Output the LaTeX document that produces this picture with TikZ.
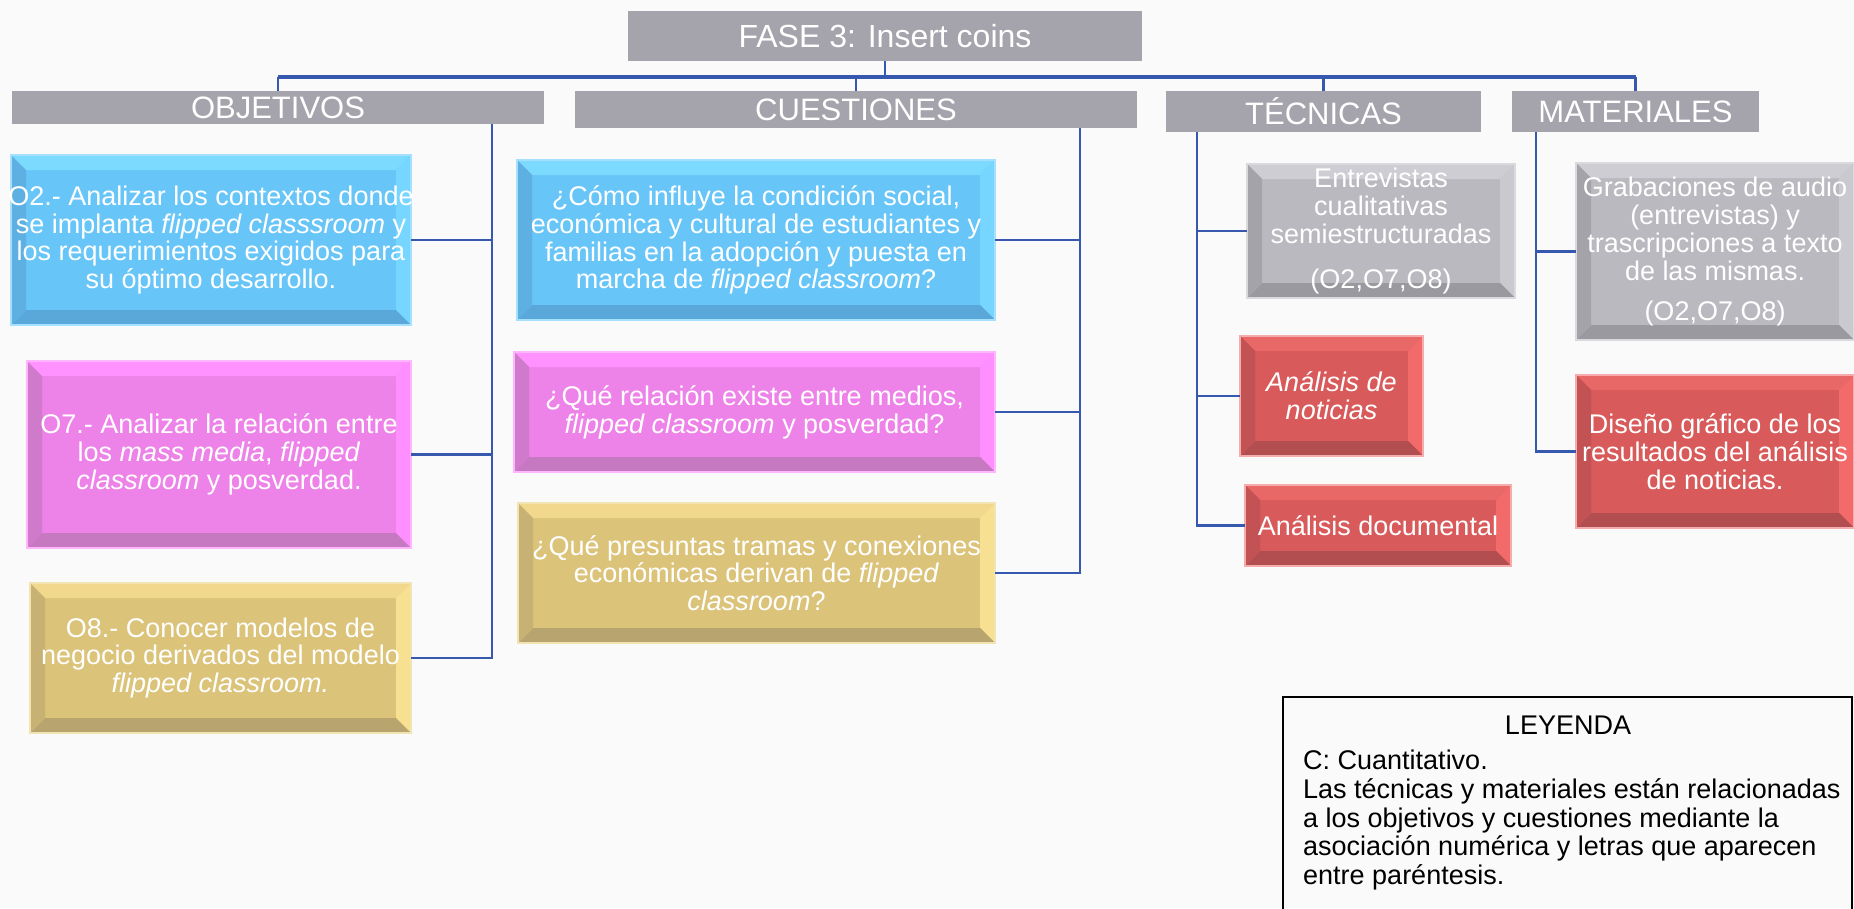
\documentclass[tikz,border=0pt]{standalone}
\usepackage{fontspec}
\setmainfont{Liberation Sans}
\definecolor{bg}{RGB}{250,250,250}
\definecolor{hdr}{RGB}{165,163,172}
\definecolor{ln}{RGB}{55,88,175}
% blue
\definecolor{blA}{RGB}{104,197,248}\definecolor{blT}{RGB}{125,218,255}\definecolor{blR}{RGB}{118,214,255}
\definecolor{blB}{RGB}{90,168,218}\definecolor{blL}{RGB}{94,176,226}\definecolor{blO}{RGB}{165,225,255}
% pink
\definecolor{piA}{RGB}{237,130,232}\definecolor{piT}{RGB}{255,146,255}\definecolor{piR}{RGB}{255,142,255}
\definecolor{piB}{RGB}{198,120,193}\definecolor{piL}{RGB}{208,122,203}\definecolor{piO}{RGB}{255,182,255}
% gold
\definecolor{goA}{RGB}{220,195,122}\definecolor{goT}{RGB}{242,216,140}\definecolor{goR}{RGB}{248,224,146}
\definecolor{goB}{RGB}{184,164,110}\definecolor{goL}{RGB}{199,178,116}\definecolor{goO}{RGB}{242,228,178}
% gray
\definecolor{grA}{RGB}{186,185,191}\definecolor{grT}{RGB}{206,205,211}\definecolor{grR}{RGB}{202,201,208}
\definecolor{grB}{RGB}{154,153,160}\definecolor{grL}{RGB}{164,163,170}\definecolor{grO}{RGB}{218,218,222}
% red
\definecolor{reA}{RGB}{216,90,90}\definecolor{reT}{RGB}{232,104,104}\definecolor{reR}{RGB}{242,106,106}
\definecolor{reB}{RGB}{178,78,80}\definecolor{reL}{RGB}{194,82,84}\definecolor{reO}{RGB}{246,172,172}
\newcommand\bevw{15pt}
\tikzset{
  boxbase/.style={inner sep=0pt, outer sep=0pt, anchor=north west, align=center,
    text=white, font=\fontsize{27}{27.8}\selectfont, line width=1.5pt},
  bev/.style n args={6}{boxbase, fill=#1, draw=#6, path picture={
    \fill[#2] (path picture bounding box.north west) -- (path picture bounding box.north east)
      -- ([xshift=-\bevw,yshift=-\bevw]path picture bounding box.north east)
      -- ([xshift=\bevw,yshift=-\bevw]path picture bounding box.north west) -- cycle;
    \fill[#3] (path picture bounding box.north east) -- (path picture bounding box.south east)
      -- ([xshift=-\bevw,yshift=\bevw]path picture bounding box.south east)
      -- ([xshift=-\bevw,yshift=-\bevw]path picture bounding box.north east) -- cycle;
    \fill[#4] (path picture bounding box.south east) -- (path picture bounding box.south west)
      -- ([xshift=\bevw,yshift=\bevw]path picture bounding box.south west)
      -- ([xshift=-\bevw,yshift=\bevw]path picture bounding box.south east) -- cycle;
    \fill[#5] (path picture bounding box.south west) -- (path picture bounding box.north west)
      -- ([xshift=\bevw,yshift=-\bevw]path picture bounding box.north west)
      -- ([xshift=\bevw,yshift=\bevw]path picture bounding box.south west) -- cycle;
  }},
  bluebox/.style={bev={blA}{blT}{blR}{blB}{blL}{blO}},
  pinkbox/.style={bev={piA}{piT}{piR}{piB}{piL}{piO}},
  goldbox/.style={bev={goA}{goT}{goR}{goB}{goL}{goO}},
  graybox/.style={bev={grA}{grT}{grR}{grB}{grL}{grO}},
  redbox/.style={bev={reA}{reT}{reR}{reB}{reL}{reO}},
  hdrbox/.style={inner sep=0pt, outer sep=0pt, anchor=north west, fill=hdr, text=white,
    font=\fontsize{31}{33}\selectfont},
  conn/.style={draw=ln, line width=2.5pt},
  bus/.style={draw=ln, line width=3.5pt},
}
\begin{document}
\begin{tikzpicture}[x=1pt,y=-1pt]
\useasboundingbox (0,0) rectangle (1854,908);
\fill[bg] (0,0) rectangle (1854,908);
\clip (0,0) rectangle (1854,908);

% headers
\node[hdrbox, minimum width=514pt, minimum height=50pt, font=\fontsize{32}{34}\selectfont] (fase) at (628,11) {FASE 3: Insert coins};
\node[hdrbox, minimum width=532pt, minimum height=33pt] (objh) at (12,91) {OBJETIVOS};
\node[hdrbox, minimum width=562pt, minimum height=37pt] (cuesh) at (575,91) {CUESTIONES};
\node[hdrbox, minimum width=315pt, minimum height=41pt] (tech) at (1166,91) {TÉCNICAS};
\node[hdrbox, minimum width=247pt, minimum height=41pt] (math) at (1512,91) {MATERIALES};

% objetivos
\node[bluebox, minimum width=400pt, minimum height=170pt] (o2) at (11,155)
 {\makebox[0pt][c]{O2.- Analizar los contextos donde}\\se implanta \textit{flipped classsroom} y\\los requerimientos exigidos para\\su óptimo desarrollo.};
\node[pinkbox, minimum width=384pt, minimum height=187pt] (o7) at (27,361)
 {O7.- Analizar la relación entre\\los \textit{mass media}, \textit{flipped}\\\textit{classroom} y posverdad.};
\node[goldbox, minimum width=381pt, minimum height=150pt] (o8) at (30,583)
 {O8.- Conocer modelos de\\negocio derivados del modelo\\\textit{flipped classroom.}};

% cuestiones
\node[bluebox, minimum width=478pt, minimum height=160pt] (c1) at (517,160)
 {¿Cómo influye la condición social,\\económica y cultural de estudiantes y\\familias en la adopción y puesta en\\marcha de \textit{flipped classroom}?};
\node[pinkbox, minimum width=481pt, minimum height=120pt] (c2) at (514,352)
 {¿Qué relación existe entre medios,\\\textit{flipped classroom} y posverdad?};
\node[goldbox, minimum width=477pt, minimum height=140pt] (c3) at (518,503)
 {¿Qué presuntas tramas y conexiones\\económicas derivan de \textit{flipped}\\\textit{classroom}?};

% tecnicas
\node[graybox, minimum width=268pt, minimum height=134pt] (t1) at (1247,164)
 {Entrevistas\\cualitativas\\semiestructuradas\\[17pt](O2,O7,O8)};
\node[redbox, minimum width=183pt, minimum height=120pt] (t2) at (1240,336)
 {\textit{Análisis de}\\\textit{noticias}};
\node[redbox, minimum width=266pt, minimum height=81pt] (t3) at (1245,485)
 {Análisis documental};

% materiales
\node[graybox, minimum width=278pt, minimum height=177pt] (m1) at (1576,163)
 {Grabaciones de audio\\(entrevistas) y\\trascripciones a texto\\de las mismas.\\[12pt](O2,O7,O8)};
\node[redbox, minimum width=278pt, minimum height=153pt] (m2) at (1576,375)
 {Diseño gráfico de los\\resultados del análisis\\de noticias.};

% connectors: top bus
\coordinate (busy) at (0,77);
\draw[bus] (objh.north |- busy) -- (math.north |- busy);
\draw[conn] (fase.south) -- (fase.south |- busy);
\draw[conn] (objh.north |- busy) -- (objh.north);
\draw[conn] (cuesh.north |- busy) -- (cuesh.north);
\draw[conn] (tech.north |- busy) -- (tech.north);
\draw[conn] (math.north |- busy) -- (math.north);

% objetivos branch
\coordinate (objv) at (492,0);
\draw[conn] (objh.south -| objv) |- (o8.east);
\draw[conn] (o2.east) -- (o2.east -| objv);
\draw[conn] (o7.east) -- (o7.east -| objv);

% cuestiones branch
\coordinate (cuev) at (1080,0);
\draw[conn] (cuesh.south -| cuev) |- (c3.east);
\draw[conn] (c1.east) -- (c1.east -| cuev);
\draw[conn] (c2.east) -- (c2.east -| cuev);

% tecnicas branch
\coordinate (tecv) at (1197,0);
\draw[conn] (tech.south -| tecv) |- (t3.west);
\draw[conn] (t1.west) -- (t1.west -| tecv);
\draw[conn] (t2.west) -- (t2.west -| tecv);

% materiales branch
\coordinate (matv) at (1536,0);
\draw[conn] (math.south -| matv) |- (m2.west);
\draw[conn] (m1.west) -- (m1.west -| matv);

% legend
\node[draw=black, line width=2pt, inner sep=0pt, outer sep=0pt, anchor=north west,
  minimum width=569pt, minimum height=220pt] (leg) at (1283,697) {};
\node[font=\fontsize{27}{28}\selectfont, text=black] (legt) at (1568,725) {LEYENDA};
\node[font=\fontsize{27}{28.7}\selectfont, text=black, align=left, anchor=north west, inner sep=0pt] (legb) at (1303,750)
 {C: Cuantitativo.\\Las técnicas y materiales están relacionadas\\a los objetivos y cuestiones mediante la\\asociación numérica y letras que aparecen\\entre paréntesis.};
\end{tikzpicture}
\end{document}
